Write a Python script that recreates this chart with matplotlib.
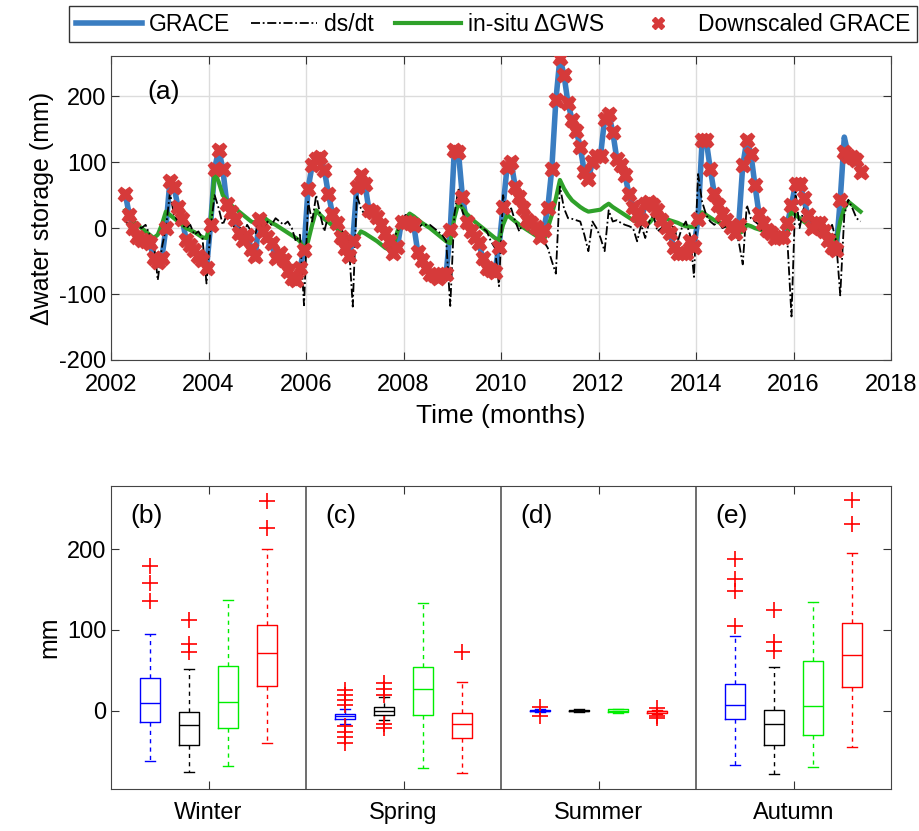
import numpy as np
import pandas as pd
import matplotlib
matplotlib.use("Agg")
import matplotlib.pyplot as plt

plt.rcParams['font.family'] = ['Liberation Sans', 'DejaVu Sans']
plt.rcParams['axes.unicode_minus'] = False

# monthly series, Apr 2002 .. May 2017 (mm)
grace = [
    52, 20, 0, -13, -18, -20, -22, -46, -51,                      # 2002
    -46, 0, 72, 62, 32, 14, -18, -26, -33, -43, -48, -61,         # 2003
    5, 90, 119, 90, 37, 25, 14, -8, -18, -11, -31, -43,           # 2004
    14, -5, -13, -23, -46, -38, -48, -65, -76, -79, -61, -33,     # 2005
    60, 95, 105, 108, 88, 52, 22, 7, -13, -30, -43, -20,          # 2006
    62, 80, 67, 27, 24, 17, 5, -8, -20, -38, -28, 10,             # 2007
    10, 7, 5, -36, -48, -60, -69, -71, -76, -69, -69, -3,         # 2008
    118, 116, 47, 10, -5, -13, -23, -45, -61, -64, -66, -28,      # 2009
    32, 93, 100, 62, 47, 30, 12, 7, 2, -13, -3, 30,               # 2010
    90, 194, 258, 232, 189, 164, 148, 123, 85, 75, 100, 110,      # 2011
    110, 166, 173, 146, 105, 95, 80, 52, 32, 20, 12, 37,          # 2012
    40, 35, 27, 12, 2, -8, -28, -38, -38, -38, -20, -28,          # 2013
    14, 133, 133, 90, 52, 35, 22, 12, 2, -8, 5, 95,               # 2014
    133, 113, 65, 22, 7, -3, -8, -15, -13, -13, 7, 35,            # 2015
    67, 67, 45, 20, 0, 7, 7, -5, -18, -28, -33, 43,               # 2016
    138, 110, 108, 103, 85,                                       # 2017
]
downscaled = [
    52, 20, 0, -13, -18, -20, -22, -46, -51,
    -46, 0, 72, 62, 32, 14, -18, -26, -33, -43, -48, -61,
    5, 90, 119, 90, 37, 25, 14, -8, -18, -11, -31, -43,
    14, -5, -13, -23, -46, -38, -48, -65, -76, -79, -61, -33,
    60, 95, 105, 108, 88, 52, 22, 7, -13, -30, -43, -20,
    62, 80, 67, 27, 24, 17, 5, -8, -20, -38, -28, 10,
    10, 7, 5, -36, -48, -60, -69, -71, -76, -69, -69, -3,
    118, 116, 47, 10, -5, -13, -23, -45, -61, -64, -66, -28,
    32, 93, 100, 62, 47, 30, 12, 7, 2, -13, -3, 30,
    90, 194, 258, 232, 189, 164, 148, 123, 85, 75, 100, 110,
    110, 166, 173, 146, 105, 95, 80, 52, 32, 20, 12, 37,
    40, 35, 27, 12, 2, -8, -28, -38, -38, -38, -20, -28,
    14, 133, 133, 90, 52, 35, 22, 12, 2, -8, 5, 95,
    133, 113, 65, 22, 7, -3, -8, -15, -13, -13, 7, 35,
    67, 67, 45, 20, 0, 7, 7, -5, -18, -28, -33, 43,
    116, 110, 108, 103, 85,
]
dsdt = [
    10, 5, 5, 3, 0, 5, -10, -20, -79,
    -30, 0, 54, 20, 10, 5, 0, 5, -10, -5, -15, -84,
    0, 50, 30, 5, 20, 10, 0, 5, -10, 5, -5, -10,
    15, -5, 10, 5, 15, 10, 5, 10, 0, -20, -10, -117,
    40, 10, 50, 20, -5, 20, 10, 5, 0, -10, -20, -119,
    50, 30, 20, 30, 20, 10, 0, -10, -20, -15, -5, 10,
    20, 15, 5, 0, 5, 5, 5, 0, -5, -10, -20, -118,
    20, 60, 25, 10, 5, 3, 3, 0, -5, -20, -30, -88,
    50, 20, 30, 10, -5, 10, 5, 0, -5, -10, -20, -30,
    -50, -69, 63, 30, 15, 14, 12, 10, -10, -35, 10, 0,
    -15, -35, 27, 10, 12, 8, 5, 3, 0, -20, 5, -15,
    10, 20, -5, 0, 5, -10, 5, -20, 0, 10, -10, -74,
    82, 40, 20, 10, 5, 10, 0, 3, -5, -5, -20, -55,
    35, 15, 10, 5, -10, 5, 0, -5, -5, -10, -20, -134,
    55, 0, 30, 15, 10, 5, 10, 0, -5, 5, -20, -102,
    20, 43, 30, 15, 10,
]
insitu = [
    27, 18, 10, 5, 0, -5, -10, -15, -10,
    5, 25, 20, 15, 10, 5, 0, -3, -6, -10, -14, -15,
    10, 85, 70, 50, 42, 35, 30, 25, 20, 15, 10, 8,
    15, 17, 12, 8, 5, 1, -3, -7, -11, -15, -20, -33,
    -20, 5, 27, 20, 14, 9, 4, 0, -5, -10, -15, -23,
    -15, -5, -8, -12, -16, -20, -25, -30, -33, -28, -5, 10,
    15, 22, 18, 13, 8, 4, 0, -5, -10, -15, -20, -23,
    15, 38, 30, 22, 16, 10, 5, 0, -5, -10, -15, -18,
    5, 20, 15, 10, 5, 1, -3, -7, -11, -15, -20, 0,
    20, 45, 73, 60, 50, 42, 37, 32, 28, 25, 26, 27,
    28, 33, 37, 32, 28, 24, 20, 16, 12, 10, 7, 5,
    8, 15, 22, 18, 15, 12, 10, 8, 5, 3, 2, 2,
    10, 24, 20, 16, 12, 9, 6, 3, 0, -3, -8, -5,
    5, 3, 0, -2, -4, -6, -8, -10, -12, -13, -10, 27,
    20, 15, 10, 6, 3, 0, -3, -6, -9, -12, -20, 10,
    30, 40, 35, 30, 25,
]

months = pd.date_range('2002-04-01', '2017-05-01', freq='MS')
t = months.year + (months.month - 0.5) / 12

# seasonal box statistics (mm): GRACE(blue), ds/dt(black), in-situ(green), downscaled(red)
seasons = ['Winter', 'Spring', 'Summer', 'Autumn']
box_colors = ['blue', 'black', '#00ee00', 'red']
medians = [[10, -18, 11, 71], [-7, -1, 27, -16], [0, 0, 0, -1], [7, -16, 6, 69]]
q1s = [[-14, -43, -22, 31], [-10, -5, -5, -34], [-1, -1, -1.5, -3], [-10, -42, -30, 29]]
q3s = [[40, -2, 55, 106], [-4, 4, 54, -3], [1, 1, 1.5, 0], [33, 1, 61, 109]]
whis_lo = [[-62, -76, -68, -40], [-17, -11, -71, -77], [-2, -2, -2.5, -4], [-67, -79, -70, -45]]
whis_hi = [[95, 51, 137, 200], [2, 17, 133, 36], [2, 2, 2.5, 1], [93, 54, 134, 195]]
outliers = [
    [[179, 158, 136], [112, 83, 73], [], [259, 226]],
    [[26, 19, 13, 7, -19, -26, -33, -40], [34, 27, 20, -17, -21], [], [72]],
    [[-6, 4], [], [], [-7, 3, -9]],
    [[188, 163, 148, 105], [125, 85, 74], [], [261, 231]],
]

fig = plt.figure(figsize=(9.2, 8.31), dpi=100)
ax = fig.add_axes([0.1207, 0.5668, 0.8478, 0.3658])

c_grace = '#3a7dc1'
c_insitu = '#2fa12a'
c_down = '#d63a3a'
h1, = ax.plot(t, grace, color=c_grace, lw=4, zorder=2)
h3, = ax.plot(t, insitu, color=c_insitu, lw=3, zorder=3)
h2, = ax.plot(t, dsdt, color='black', lw=1.3, ls=(0, (5, 1.5, 1, 1.5)), zorder=4)
h4, = ax.plot(t, downscaled, ls='none', marker='X', ms=10.5, color=c_down,
              mec=c_down, zorder=5)

ax.set_xlim(2002, 2018)
ax.set_ylim(-200, 261)
ax.set_xticks(np.arange(2002, 2019, 2))
ax.set_yticks([-200, -100, 0, 100, 200])
ax.grid(True, color='#dcdcdc', lw=1)
ax.set_axisbelow(True)
ax.tick_params(direction='in', top=True, right=True, labelsize=17, length=6,
               color='#333333')
ax.tick_params(axis='x', pad=10)
for s in ax.spines.values():
    s.set_color('#444444')
ax.set_xlabel('Time (months)', fontsize=19, labelpad=6)
ax.set_ylabel('\u0394water storage (mm)', fontsize=18, labelpad=4)
ax.text(0.047, 0.86, '(a)', transform=ax.transAxes, fontsize=19)

fig.legend([h1, h2, h3, h4], ['GRACE', 'ds/dt', 'in-situ \u0394GWS', 'Downscaled GRACE'],
           loc='center', bbox_to_anchor=(0.536, 0.971), ncol=4, fontsize=16.5,
           frameon=True, fancybox=False, edgecolor='black', handlelength=2.9,
           columnspacing=0.9, handletextpad=0.3, borderpad=0.3, borderaxespad=0,
           markerscale=0.85)

# seasonal box plots
bx = fig.add_axes([0.1207, 0.0505, 0.8478, 0.3646])
offsets = [-0.3, -0.1, 0.1, 0.3]
for g in range(4):
    for k in range(4):
        st = [dict(med=medians[g][k], q1=q1s[g][k], q3=q3s[g][k],
                   whislo=whis_lo[g][k], whishi=whis_hi[g][k],
                   fliers=outliers[g][k])]
        col = box_colors[k]
        bx.bxp(st, positions=[g + 1 + offsets[k]], widths=0.1, capwidths=0.05,
               manage_ticks=False,
               boxprops=dict(color=col, lw=1),
               medianprops=dict(color=col, lw=1),
               whiskerprops=dict(color=col, lw=1, ls=(0, (3, 3))),
               capprops=dict(color=col, lw=1),
               flierprops=dict(marker='+', markeredgecolor='red', ms=11, mew=1.2))
for xv in [1.5, 2.5, 3.5]:
    bx.axvline(xv, color='#555555', lw=1.2)
bx.set_xlim(0.5, 4.5)
bx.set_ylim(-97, 278)
bx.set_xticks([1, 2, 3, 4])
bx.set_xticklabels(seasons)
bx.set_yticks([0, 100, 200])
bx.tick_params(direction='in', top=True, right=True, labelsize=17, length=6,
               color='#333333')
bx.tick_params(axis='x', pad=9)
for s in bx.spines.values():
    s.set_color('#444444')
bx.set_ylabel('mm', fontsize=18)
for g, lab in enumerate(['(b)', '(c)', '(d)', '(e)']):
    bx.text(g + 0.6, 232, lab, fontsize=19)

fig.savefig('out.png', dpi=100)
